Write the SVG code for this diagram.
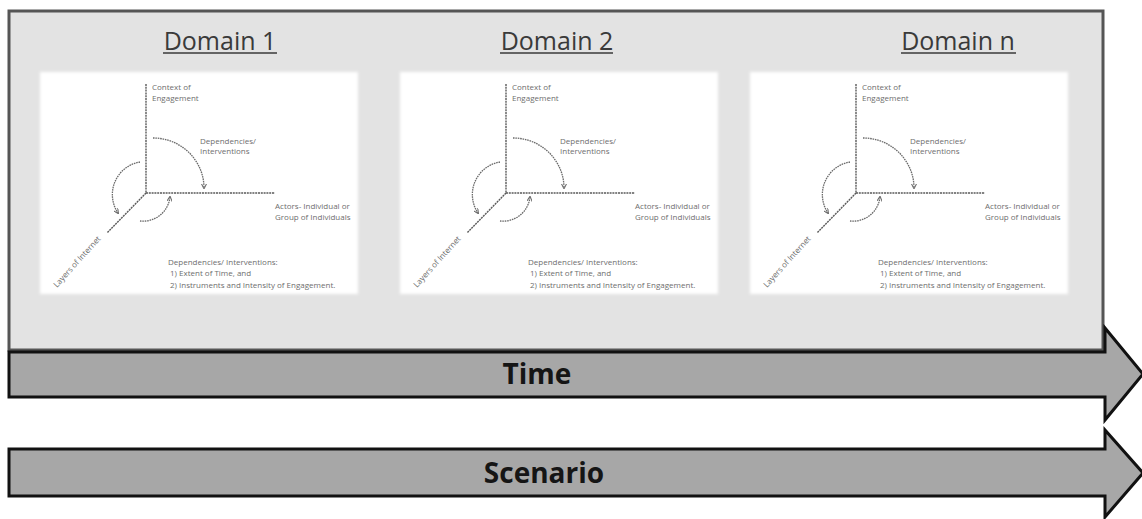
<svg xmlns="http://www.w3.org/2000/svg" width="1142" height="519" viewBox="0 0 1142 519">
  <style>
    .frame { fill: #e3e3e3; stroke: #555555; stroke-width: 3; }
    .band { fill: #a7a7a7; stroke: #111111; stroke-width: 3; stroke-linejoin: miter; }
    .title { font-family: "Open Sans", "Liberation Sans", sans-serif; font-size: 25px; fill: #3a3a3a; text-anchor: middle; }
    .uline { stroke: #3a3a3a; stroke-width: 1.5; }
    .band-label { font-family: "Open Sans", "Liberation Sans", sans-serif; font-size: 28px; font-weight: bold; fill: #151515; text-anchor: middle; }
    .panel { fill: #ffffff; filter: url(#soft); }
    .axis { stroke: #5a5a5a; stroke-width: 1.4; stroke-dasharray: 2 0.8; fill: none; }
    .arc { stroke: #6a6a6a; stroke-width: 1.3; stroke-dasharray: 1.6 0.8; fill: none; }
    .small { font-family: "Open Sans", "Liberation Sans", sans-serif; font-size: 8px; fill: #6e6e6e; }
  </style>
  <defs>
    <filter id="soft" x="-5%" y="-5%" width="110%" height="110%">
      <feGaussianBlur stdDeviation="1.5"/>
    </filter>
    <marker id="tip" viewBox="0 0 6 6" refX="5" refY="3" markerWidth="4" markerHeight="4" orient="auto">
      <path d="M0,0 L6,3 L0,6" fill="none" stroke="#6a6a6a" stroke-width="1.2"/>
    </marker>
  </defs>

  <!-- outer frame holding the three domains -->
  <g id="frame">
    <rect class="frame" x="9" y="11" width="1094" height="339"/>
  </g>

  <!-- Domain 1 -->
  <g id="domain1">
    <text class="title" x="220" y="50">Domain 1</text>
    <line class="uline" x1="163" y1="53" x2="277" y2="53"/>
    <rect class="panel" x="40" y="72" width="318" height="222"/>
    <line class="axis" x1="146" y1="84" x2="146" y2="193"/>
    <line class="axis" x1="146" y1="193" x2="275" y2="193"/>
    <line class="axis" x1="146" y1="193" x2="107" y2="233"/>
    <path class="arc" d="M153,138 A51,50 0 0 1 204,188" marker-end="url(#tip)"/>
    <path class="arc" d="M140,162 A33,33 0 0 0 118,213" marker-end="url(#tip)"/>
    <path class="arc" d="M140,221 A27,27 0 0 0 170,197" marker-end="url(#tip)"/>
    <text class="small" x="152" y="90">Context of</text>
    <text class="small" x="152" y="101">Engagement</text>
    <text class="small" x="200" y="144">Dependencies/</text>
    <text class="small" x="200" y="154">Interventions</text>
    <text class="small" x="275" y="209">Actors- Individual or</text>
    <text class="small" x="275" y="220">Group of Individuals</text>
    <text class="small" transform="translate(57,288) rotate(-48)">Layers of Internet</text>
    <text class="small" x="168" y="265">Dependencies/ Interventions:</text>
    <text class="small" x="170" y="276">1) Extent of Time, and</text>
    <text class="small" x="170" y="288">2) Instruments and Intensity of Engagement.</text>
  </g>

  <!-- Domain 2 -->
  <g id="domain2">
    <text class="title" x="557" y="50">Domain 2</text>
    <line class="uline" x1="500" y1="53" x2="613" y2="53"/>
    <g transform="translate(360,0)">
      <rect class="panel" x="40" y="72" width="318" height="222"/>
      <line class="axis" x1="146" y1="84" x2="146" y2="193"/>
      <line class="axis" x1="146" y1="193" x2="275" y2="193"/>
      <line class="axis" x1="146" y1="193" x2="107" y2="233"/>
      <path class="arc" d="M153,138 A51,50 0 0 1 204,188" marker-end="url(#tip)"/>
      <path class="arc" d="M140,162 A33,33 0 0 0 118,213" marker-end="url(#tip)"/>
      <path class="arc" d="M140,221 A27,27 0 0 0 170,197" marker-end="url(#tip)"/>
      <text class="small" x="152" y="90">Context of</text>
      <text class="small" x="152" y="101">Engagement</text>
      <text class="small" x="200" y="144">Dependencies/</text>
      <text class="small" x="200" y="154">Interventions</text>
      <text class="small" x="275" y="209">Actors- Individual or</text>
      <text class="small" x="275" y="220">Group of Individuals</text>
      <text class="small" transform="translate(57,288) rotate(-48)">Layers of Internet</text>
      <text class="small" x="168" y="265">Dependencies/ Interventions:</text>
      <text class="small" x="170" y="276">1) Extent of Time, and</text>
      <text class="small" x="170" y="288">2) Instruments and Intensity of Engagement.</text>
    </g>
  </g>

  <!-- Domain n -->
  <g id="domainN">
    <text class="title" x="958" y="50">Domain n</text>
    <line class="uline" x1="901" y1="53" x2="1016" y2="53"/>
    <g transform="translate(710,0)">
      <rect class="panel" x="40" y="72" width="318" height="222"/>
      <line class="axis" x1="146" y1="84" x2="146" y2="193"/>
      <line class="axis" x1="146" y1="193" x2="275" y2="193"/>
      <line class="axis" x1="146" y1="193" x2="107" y2="233"/>
      <path class="arc" d="M153,138 A51,50 0 0 1 204,188" marker-end="url(#tip)"/>
      <path class="arc" d="M140,162 A33,33 0 0 0 118,213" marker-end="url(#tip)"/>
      <path class="arc" d="M140,221 A27,27 0 0 0 170,197" marker-end="url(#tip)"/>
      <text class="small" x="152" y="90">Context of</text>
      <text class="small" x="152" y="101">Engagement</text>
      <text class="small" x="200" y="144">Dependencies/</text>
      <text class="small" x="200" y="154">Interventions</text>
      <text class="small" x="275" y="209">Actors- Individual or</text>
      <text class="small" x="275" y="220">Group of Individuals</text>
      <text class="small" transform="translate(57,288) rotate(-48)">Layers of Internet</text>
      <text class="small" x="168" y="265">Dependencies/ Interventions:</text>
      <text class="small" x="170" y="276">1) Extent of Time, and</text>
      <text class="small" x="170" y="288">2) Instruments and Intensity of Engagement.</text>
    </g>
  </g>

  <!-- block arrows along the bottom -->
  <g id="connectors">
    <g id="time">
      <path class="band" d="M9,352 L1105,352 L1105,328 L1143,374 L1105,420 L1105,397 L9,397 Z"/>
      <text class="band-label" x="537" y="384">Time</text>
    </g>
    <g id="scenario">
      <path class="band" d="M9,449 L1105,449 L1105,430 L1143,473 L1105,517 L1105,496 L9,496 Z"/>
      <text class="band-label" x="544" y="483">Scenario</text>
    </g>
  </g>
</svg>
